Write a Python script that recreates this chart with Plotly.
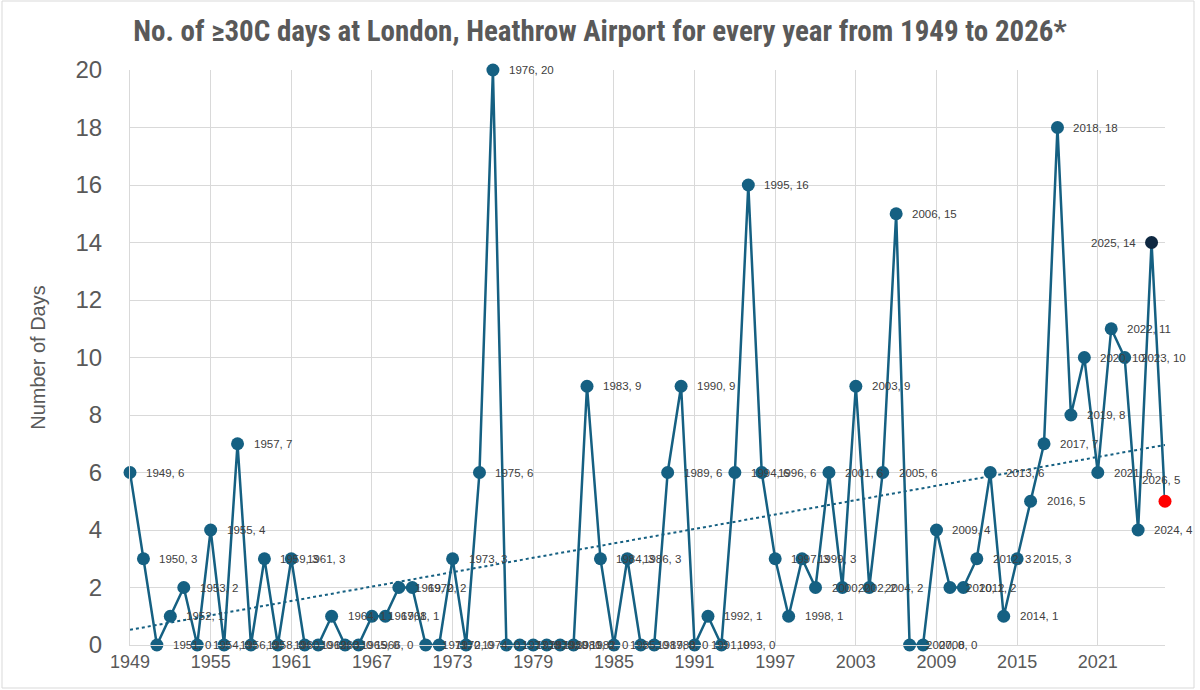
import numpy as np
import plotly.graph_objects as go

years = list(range(1949, 2027))
days = [6, 3, 0, 1, 2, 0, 4, 0, 7, 0,
        3, 0, 3, 0, 0, 1, 0, 0, 1, 1,
        2, 2, 0, 0, 3, 0, 6, 20, 0, 0,
        0, 0, 0, 0, 9, 3, 0, 3, 0, 0,
        6, 9, 0, 1, 0, 6, 16, 6, 3, 1,
        3, 2, 6, 2, 9, 2, 6, 15, 0, 0,
        4, 2, 2, 3, 6, 1, 3, 5, 7, 18,
        8, 10, 6, 11, 10, 4, 14, 5]

title = "No. of ≥30C days at London, Heathrow Airport for every year from 1949 to 2026*"
y_title = "Number of Days"
x_ticks = list(range(1949, 2022, 6))
y_ticks = list(range(0, 21, 2))

SERIES = "#156082"
LABEL_FONT = dict(family="Liberation Sans, Arial, sans-serif", size=11.5, color="#404040")
labels = [f"{y}, {d}" for y, d in zip(years, days)]
marker_colors = [SERIES] * len(years)
marker_colors[-2] = "#0E2841"
marker_colors[-1] = "#FF0000"

# linear trendline (as Excel's)
coef = np.polyfit(years, days, 1)
trend_x = [years[0], years[-1]]
trend_y = list(np.polyval(coef, trend_x))

fig = go.Figure()
fig.add_trace(go.Scatter(
    x=trend_x, y=trend_y, mode="lines",
    line=dict(color=SERIES, width=2, dash="dot"),
    hoverinfo="skip", showlegend=False))
fig.add_trace(go.Scatter(
    x=years, y=days, mode="lines+markers",
    line=dict(color=SERIES, width=2.5),
    marker=dict(size=13, color=marker_colors, line=dict(width=0)),
    cliponaxis=False, showlegend=False))

annotations = []
n = len(years)
for i, (yr, d, lab) in enumerate(zip(years, days, labels)):
    if i == n - 2:
        annotations.append(dict(x=yr, y=d, text=lab, showarrow=False, xanchor="right",
                                yanchor="middle", xshift=-14, font=LABEL_FONT))
    elif i == n - 1:
        annotations.append(dict(x=yr, y=d, text=lab, showarrow=False, xanchor="center",
                                yanchor="middle", yshift=21, xshift=-4, font=LABEL_FONT))
    else:
        annotations.append(dict(x=yr, y=d, text=lab, showarrow=False, xanchor="left",
                                yanchor="middle", xshift=14, font=LABEL_FONT))

W, H = 1200, 690
ml, mr, mt, mb = 130, 35, 70, 45
pw, ph = W - ml - mr, H - mt - mb

fig.update_layout(
    width=W, height=H,
    margin=dict(l=ml, r=mr, t=mt, b=mb),
    paper_bgcolor="white", plot_bgcolor="white",
    title=dict(text=f"<b>{title}</b>", x=0.5, xanchor="center", y=0.956, yanchor="middle",
               font=dict(family="Liberation Sans Narrow, Roboto Condensed, Arial Narrow, sans-serif",
                         size=29, color="#595959")),
    xaxis=dict(range=[1949, 2026], tickmode="array", tickvals=x_ticks,
               ticktext=[str(t) for t in x_ticks],
               showgrid=True, gridcolor="#D9D9D9", gridwidth=1,
               showline=True, linecolor="#D9D9D9", zeroline=False,
               tickfont=dict(family="Liberation Sans, Arial, sans-serif", size=18, color="#595959"),
               ticks="", ticklen=0),
    yaxis=dict(range=[0, 20], tickmode="array", tickvals=y_ticks,
               showgrid=True, gridcolor="#D9D9D9", gridwidth=1,
               showline=True, linecolor="#D9D9D9", zeroline=False,
               ticklabelstandoff=22,
               tickfont=dict(family="Liberation Sans, Arial, sans-serif", size=24, color="#595959"),
               title=dict(text=y_title, standoff=24,
                          font=dict(family="Liberation Sans, Arial, sans-serif", size=20, color="#595959"))),
    annotations=annotations,
    shapes=[dict(type="rect", xref="paper", yref="paper",
                 x0=(2 - ml) / pw, x1=(1194 - ml) / pw,
                 y0=-(688 - (H - mb)) / ph, y1=((H - mb) - 1) / ph,
                 line=dict(color="#D9D9D9", width=1))],
)

fig.write_html("out.html")
